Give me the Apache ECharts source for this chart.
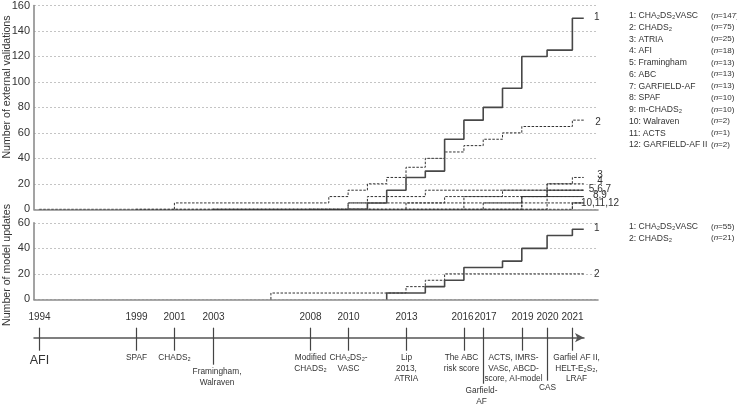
<!DOCTYPE html>
<html><head><meta charset="utf-8">
<script src="https://cdn.jsdelivr.net/npm/echarts@6/dist/echarts.min.js"></script>
<style>html,body{margin:0;padding:0;background:#fff}#c{width:737px;height:406px}</style>
</head><body><div id="c"></div>
<script>
// ================= DATA =================
// Upper panel: cumulative number of external validations (year of step, cumulative value)
const v1Years = [2010, 2011, 2012, 2013, 2014, 2015, 2016, 2017, 2018, 2019, 2020, 2021];
const v1Vals  = [0, 5, 15, 25, 30, 55, 70, 80, 95, 120, 125, 150];
const v2Years = [2001, 2001, 2009, 2010, 2011, 2012, 2013, 2014, 2015, 2016, 2017, 2018, 2019, 2021];
const v2Vals  = [0, 5, 10, 15, 20, 25, 33, 40, 45, 50, 55, 60, 65, 70];
const v3Years = [2013, 2013, 2015, 2018, 2020, 2021];
const v3Vals  = [0, 5, 10, 15, 20, 25];
const v4Years = [1994, 2010, 2011, 2014, 2020];
const v4Vals  = [0, 5, 10, 15, 20];
const v5Years = [2003, 2016, 2020];
const v5Vals  = [0, 10, 15];
const v6Years = [2016, 2019, 2020];
const v6Vals  = [0, 10, 15];
const v7Years = [2017, 2017, 2020];
const v7Vals  = [0, 5, 15];
const v8Years = [1999, 2019];
const v8Vals  = [0, 10];
const v9Years = [2008, 2010, 2019];
const v9Vals  = [0, 5, 10];
const v10Years = [2003, 2021];
const v10Vals  = [0, 5];
const v11Years = [2019, 2020];
const v11Vals  = [0, 5];
const v12Years = [2021, 2021];
const v12Vals  = [0, 5];
const seriesEnd = 2021.45;

// Lower panel: cumulative number of model updates
const u1Years = [2012, 2012, 2014, 2015, 2016, 2018, 2019, 2020, 2021];
const u1Vals  = [0, 5, 10, 15, 25, 30, 40, 50, 55];
const u2Years = [2006, 2006, 2013, 2014, 2015];
const u2Vals  = [0, 5, 10, 15, 20];

// End labels
const upperEndText = ['1', '2', '3', '4', '5,6,7', '8,9', '10,11,12'];
const lowerEndText = ['1', '2'];

// Legends
const upperLegendNames = ['1: CHA₂DS₂VASC', '2: CHADS₂', '3: ATRIA', '4: AFI', '5: Framingham', '6: ABC',
  '7: GARFIELD-AF', '8: SPAF', '9: m-CHADS₂', '10: Walraven', '11: ACTS', '12: GARFIELD-AF II'];
const upperLegendN = ['147', '75', '25', '18', '13', '13', '13', '10', '10', '2', '1', '2'];
const lowerLegendNames = ['1: CHA₂DS₂VASC', '2: CHADS₂'];
const lowerLegendN = ['55', '21'];

// Timeline
const tlYears  = [1994, 1999, 2001, 2003, 2008, 2010, 2013, 2016, 2017, 2019, 2020, 2021];
const tlEvents = ['AFI', 'SPAF', 'CHADS₂', 'Framingham,\nWalraven', 'Modified\nCHADS₂', 'CHA₂DS₂-\nVASC',
  'Lip\n2013,\nATRIA', 'The ABC\nrisk score', 'Garfield-\nAF', 'ACTS, IMRS-\nVASc, ABCD-\nscore, AI-model', 'CAS',
  'Garfiel AF II,\nHELT-E₂S₂,\nLRAF'];

// ================= LAYOUT / STYLE =================
// the original time axis widens the spacing for the last years
function pos(y) { return y <= 2019 ? y : 2019 + (y - 2019) * 1.31; }
const xMin = 1993.725, pxPerYear = 19.3;
const FONT = '"Liberation Sans", Arial, Helvetica, sans-serif';
const solidStyle  = { color: '#474747', width: 1.6, type: 'solid' };
const dashedStyle = { color: '#333', width: 1, type: [2.5, 1.5] };
const upperStyles = [solidStyle].concat(new Array(11).fill(dashedStyle));
const upperEndValues = [150.8, 68.6, 26.5, 22, 16, 10.8, 4.7];   // label anchor heights
const upperEndX = [2022.88, 2022.95, 2023.05, 2023.05, 2023.05, 2023.05, 2023.05];
const lowerEndValues = [55.6, 19.6];
const tickDrop = { 2003: 27, 2017: 46, 2020: 43 };
const eventShift = { 2003: 3.5, 2016: -3, 2017: -2, 2019: -9, 2021: 4 };
const yearShift = { 2016: -2, 2017: 2 };

function stepData(years, vals) {
  const d = years.map((y, i) => [pos(y), vals[i]]);
  d.push([pos(seriesEnd), vals[vals.length - 1]]);
  return d;
}

const upperYears = [v1Years, v2Years, v3Years, v4Years, v5Years, v6Years, v7Years, v8Years, v9Years, v10Years, v11Years, v12Years];
const upperVals  = [v1Vals, v2Vals, v3Vals, v4Vals, v5Vals, v6Vals, v7Vals, v8Vals, v9Vals, v10Vals, v11Vals, v12Vals];

const series = [];
upperYears.forEach((ys, i) => {
  series.push({
    type: 'line', step: 'end', xAxisIndex: 0, yAxisIndex: 0, symbol: 'none', silent: true,
    data: stepData(ys, upperVals[i]), lineStyle: upperStyles[i], z: i === 0 ? 5 : 3
  });
});
series.push({ type: 'line', step: 'end', xAxisIndex: 1, yAxisIndex: 1, symbol: 'none', silent: true,
  data: stepData(u1Years, u1Vals), lineStyle: solidStyle, z: 5 });
series.push({ type: 'line', step: 'end', xAxisIndex: 1, yAxisIndex: 1, symbol: 'none', silent: true,
  data: stepData(u2Years, u2Vals), lineStyle: dashedStyle, z: 4 });

function labelSeries(xi, yi, texts, xs, ys) {
  return {
    type: 'custom', xAxisIndex: xi, yAxisIndex: yi, clip: false, silent: true,
    data: texts.map((t, i) => [xs[i], ys[i], i]),
    renderItem: function (params, api) {
      const p = api.coord([api.value(0), api.value(1)]);
      return { type: 'text', style: { text: texts[api.value(2)], x: p[0], y: p[1], align: 'center',
        verticalAlign: 'middle', font: '10px ' + FONT, fill: '#333' } };
    }
  };
}
series.push(labelSeries(0, 0, upperEndText, upperEndX, upperEndValues));
series.push(labelSeries(1, 1, lowerEndText, [2022.88, 2022.88], lowerEndValues));

// timeline
series.push({
  type: 'custom', xAxisIndex: 2, yAxisIndex: 2, clip: false, silent: true,
  data: tlYears.map((y, i) => [pos(y), i]),
  renderItem: function (params, api) {
    const i = api.value(1);
    const p = api.coord([api.value(0), 0]);
    const x = Math.round(p[0]) + 0.5, y = p[1];
    const yr = tlYears[i];
    const drop = tickDrop[yr] || 13;
    const big = i === 0;
    return { type: 'group', children: [
      { type: 'line', shape: { x1: x, y1: y - 10, x2: x, y2: y + drop }, style: { stroke: '#444', lineWidth: 1.2 } },
      { type: 'text', style: { text: String(yr), x: x + (yearShift[yr] || 0), y: y - 20, align: 'center',
          verticalAlign: 'middle', font: '10px ' + FONT, fill: '#333' } },
      { type: 'text', style: { text: tlEvents[i], x: x + (eventShift[yr] || 0), y: y + drop + (big ? 3 : 2),
          align: 'center', verticalAlign: 'top',
          font: (big ? '12.5px ' : '8.3px ') + FONT, lineHeight: big ? 14 : 10.5, fill: '#333' } }
    ] };
  }
});

// legends as text
const graphics = [];
function legend(names, ns, top) {
  names.forEach((n, i) => {
    const y = top + i * 11.75;
    graphics.push({ type: 'text', left: 629, top: y - 5.5, style: { text: n, font: '8.6px ' + FONT, fill: '#333' } });
    graphics.push({ type: 'text', left: 711, top: y - 5.2, style: {
      text: '(' + '{i|n}' + '=' + ns[i] + ')', font: '8px ' + FONT, fill: '#333',
      rich: { i: { fontStyle: 'italic', font: 'italic 8px ' + FONT, fill: '#333' } } } });
  });
}
legend(upperLegendNames, upperLegendN, 16.7);
legend(lowerLegendNames, lowerLegendN, 227.5);
graphics.push({ type: 'text', x: 7, y: 87, rotation: Math.PI / 2, style: { text: 'Number of external validations',
  font: '10.6px ' + FONT, fill: '#333', align: 'center', verticalAlign: 'middle' } });
graphics.push({ type: 'text', x: 7, y: 265, rotation: Math.PI / 2, style: { text: 'Number of model updates',
  font: '10.6px ' + FONT, fill: '#333', align: 'center', verticalAlign: 'middle' } });

const axisLine = { show: true, lineStyle: { color: '#8c8c8c', width: 1.6 } };
const split = { show: true, lineStyle: { color: '#c4c4c4', type: [2, 2], width: 1 } };
const yLabel = { color: '#333', fontSize: 11, fontFamily: FONT, margin: 4 };
function xAx(gi, max, extra) {
  return Object.assign({ type: 'value', gridIndex: gi, min: xMin, max: max, axisLine: axisLine,
    axisTick: { show: false }, axisLabel: { show: false }, splitLine: { show: false } }, extra || {});
}
const option = {
  animation: false,
  grid: [
    { left: 34, top: 5, width: 564, height: 204.3 },
    { left: 34, top: 222.8, width: 564, height: 76.6 },
    { left: 34, top: 300, width: 550, height: 37.7 }
  ],
  xAxis: [
    xAx(0, xMin + 564 / pxPerYear),
    xAx(1, xMin + 564 / pxPerYear),
    xAx(2, xMin + 550 / pxPerYear, { axisLine: { show: true, symbol: ['none', 'arrow'], symbolSize: [7, 9],
      symbolOffset: [0, 0], lineStyle: { color: '#555', width: 1.5 } } })
  ],
  yAxis: [
    { type: 'value', gridIndex: 0, min: 0, max: 160, interval: 20, axisLine: axisLine, axisTick: { show: false },
      axisLabel: yLabel, splitLine: split },
    { type: 'value', gridIndex: 1, min: 0, max: 60, interval: 20, axisLine: axisLine, axisTick: { show: false },
      axisLabel: yLabel, splitLine: split },
    { type: 'value', gridIndex: 2, min: 0, max: 1, show: false }
  ],
  graphic: graphics,
  series: series
};
const chart = echarts.init(document.getElementById('c'), null, { renderer: 'canvas' });
chart.setOption(option);
</script></body></html>
